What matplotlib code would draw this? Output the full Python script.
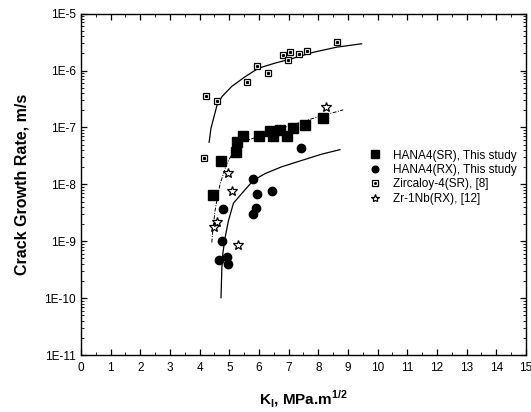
import matplotlib
matplotlib.use("Agg")
import matplotlib.pyplot as plt
import numpy as np
from matplotlib.ticker import FixedLocator, FuncFormatter, LogLocator, NullFormatter, MultipleLocator
from matplotlib.legend_handler import HandlerTuple

plt.rcParams['font.family'] = ['Liberation Sans', 'DejaVu Sans']
plt.rcParams['mathtext.fontset'] = 'custom'
plt.rcParams['mathtext.rm'] = 'Liberation Sans'
plt.rcParams['mathtext.bf'] = 'Liberation Sans:bold'

# ---- data ----
sr_K = [4.44, 4.73, 5.22, 5.27, 5.47, 6.00, 6.37, 6.46, 6.71, 6.93, 7.16, 7.55, 8.15]
sr_v = [6.4e-9, 2.6e-8, 3.7e-8, 5.6e-8, 7.0e-8, 7.2e-8, 8.5e-8, 7.2e-8, 9.1e-8, 7.2e-8, 9.8e-8, 1.1e-7, 1.45e-7]

rx_K = [4.66, 4.92, 4.95, 4.75, 4.78, 5.81, 5.90, 5.92, 6.43, 5.81, 7.41]
rx_v = [4.7e-10, 5.4e-10, 4.0e-10, 1.0e-9, 3.7e-9, 3.0e-9, 3.9e-9, 6.9e-9, 7.6e-9, 1.23e-8, 4.4e-8]

zr4_K = [4.15, 4.22, 4.58, 5.59, 5.93, 6.32, 6.82, 6.99, 7.05, 7.35, 7.63, 8.62]
zr4_v = [2.9e-8, 3.5e-7, 2.9e-7, 6.3e-7, 1.2e-6, 8.9e-7, 1.9e-6, 1.5e-6, 2.1e-6, 1.97e-6, 2.2e-6, 3.2e-6]

nb_K = [4.49, 4.58, 4.94, 5.10, 5.31, 8.25]
nb_v = [1.8e-9, 2.2e-9, 1.6e-8, 7.6e-9, 8.7e-10, 2.3e-7]

# fitted curves (log10 of rate)
zr4_fit_K = [4.32, 4.38, 4.46, 4.58, 4.75, 5.08, 5.53, 5.98, 6.54, 7.05, 7.83, 8.62, 9.46]
zr4_fit_logv = [-7.26, -7.02, -6.86, -6.62, -6.46, -6.28, -6.11, -5.96, -5.87, -5.80, -5.68, -5.59, -5.53]

sr_fit_K = [4.41, 4.46, 4.52, 4.59, 4.69, 4.92, 5.14, 5.47, 5.81, 6.60, 7.83, 8.84]
sr_fit_logv = [-9.02, -8.72, -8.46, -8.25, -7.99, -7.63, -7.43, -7.25, -7.19, -7.04, -6.84, -6.69]

rx_fit_K = [4.72, 4.75, 4.78, 4.86, 4.97, 5.14, 5.42, 5.81, 6.21, 6.77, 7.44, 8.11, 8.73]
rx_fit_logv = [-9.99, -9.46, -9.22, -8.93, -8.64, -8.33, -8.16, -7.93, -7.81, -7.69, -7.58, -7.47, -7.39]

labels = ["HANA4(SR), This study", "HANA4(RX), This study", "Zircaloy-4(SR), [8]", "Zr-1Nb(RX), [12]"]
x_ticks = list(range(0, 16))
y_ticks = [1e-11, 1e-10, 1e-9, 1e-8, 1e-7, 1e-6, 1e-5]

fig = plt.figure(figsize=(5.31, 4.12), dpi=100)
ax = fig.add_axes([0.1525, 0.138, 0.838, 0.829])

ax.plot(zr4_fit_K, np.power(10.0, zr4_fit_logv), color='black', lw=0.9, zorder=2)
ax.plot(sr_fit_K, np.power(10.0, sr_fit_logv), color='black', lw=0.7, ls=(0, (4, 1.5, 1, 1.5)), zorder=2)
ax.plot(rx_fit_K, np.power(10.0, rx_fit_logv), color='black', lw=0.9, zorder=2)

h_sr, = ax.plot(sr_K, sr_v, ls='none', marker='s', ms=6.8, color='black', zorder=3)
h_rx, = ax.plot(rx_K, rx_v, ls='none', marker='o', ms=6.0, color='black', zorder=3)
h_zr, = ax.plot(zr4_K, zr4_v, ls='none', marker='s', ms=4.8, mfc='white', mec='black', mew=0.9, zorder=3)
h_zrd, = ax.plot(zr4_K, zr4_v, ls='none', marker='s', ms=1.2, color='black', zorder=4)
h_nb, = ax.plot(nb_K, nb_v, ls='none', marker='*', ms=7.5, mfc='white', mec='black', mew=0.9, zorder=3)

ax.set_yscale('log')
ax.set_xlim(0, 15)
ax.set_ylim(1e-11, 1e-5)
ax.xaxis.set_major_locator(FixedLocator(x_ticks))
ax.xaxis.set_minor_locator(MultipleLocator(0.5))
ax.yaxis.set_major_locator(FixedLocator(y_ticks))
ax.yaxis.set_major_formatter(FuncFormatter(lambda v, p: "1E%d" % int(round(np.log10(v)))))
ax.yaxis.set_minor_locator(LogLocator(base=10, subs=np.arange(2, 10)))
ax.yaxis.set_minor_formatter(NullFormatter())

ax.tick_params(which='both', direction='in', top=True, right=True, colors='black', labelsize=8.5)
ax.tick_params(which='major', length=4, width=0.9)
ax.tick_params(which='minor', length=2, width=0.6)
ax.tick_params(axis='x', pad=5)
for s in ax.spines.values():
    s.set_linewidth(1.0)

ax.set_ylabel("Crack Growth Rate, m/s", fontsize=11.5, fontweight='bold', labelpad=11)
ax.set_xlabel(r"K$_{\mathbf{I}}$, MPa.m$^{\mathbf{1/2}}$", fontsize=11, fontweight='bold', labelpad=10)

fig.legend([h_sr, h_rx, (h_zr, h_zrd), h_nb], labels,
           handler_map={tuple: HandlerTuple(ndivide=1, pad=0)},
           loc='upper left', bbox_to_anchor=(0.695, 0.637), frameon=False,
           fontsize=8.5, markerscale=0.8, handlelength=1.0, handletextpad=1.0,
           labelspacing=0.2, borderpad=0, borderaxespad=0)

fig.savefig("out.png", dpi=100)
